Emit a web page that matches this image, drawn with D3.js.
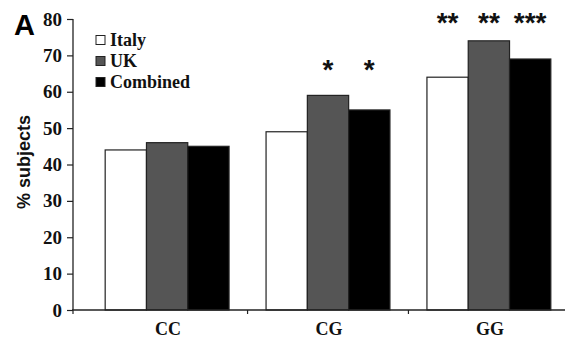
<!DOCTYPE html>
<html><head><meta charset="utf-8">
<script src="https://cdn.jsdelivr.net/npm/d3@7"></script>
<style>body{margin:0;background:#fff}svg{display:block}</style>
</head><body>
<svg id="c" width="565" height="340"></svg>
<script>
const categories = ["CC", "CG", "GG"];
const series = ["Italy", "UK", "Combined"];
const italy = [44, 49, 64];
const uk = [46, 59, 74];
const combined = [45, 55, 69];
const stars = [["", "", ""], ["", "*", "*"], ["**", "**", "***"]];
const yTicks = [0, 10, 20, 30, 40, 50, 60, 70, 80];
const colors = ["#ffffff", "#555555", "#000000"];

const vals = [italy, uk, combined];
const svg = d3.select("#c");
const serif = "'Liberation Serif','Times New Roman',serif";
const sans = "'Liberation Sans',Arial,sans-serif";

const y = d3.scaleLinear().domain([0, 80]).range([310, 19]);
const x0 = d3.scaleBand().domain(categories).range([73, 583]).paddingInner(0.23).paddingOuter(0.2);
const x1 = d3.scaleBand().domain(series).range([0, x0.bandwidth()]);

// y axis
const yAxis = svg.append("g").attr("transform", "translate(73,0)")
  .call(d3.axisLeft(y).tickValues(yTicks).tickSize(6).tickPadding(5));
yAxis.select(".domain").attr("stroke", "#222").attr("stroke-width", 1.3).attr("d", "M0,19V310");
yAxis.selectAll(".tick line").attr("stroke", "#222").attr("stroke-width", 1.2);
yAxis.selectAll(".tick text").attr("font-family", serif).attr("font-weight", "bold")
  .attr("font-size", 19).attr("fill", "#111");

// bars
categories.forEach((c, ci) => {
  const groupMax = d3.max(vals, v => v[ci]);
  const starLevel = Math.min(groupMax + 8, 80);
  series.forEach((s, si) => {
    svg.append("rect")
      .attr("x", x0(c) + x1(s))
      .attr("y", y(vals[si][ci]))
      .attr("width", x1.bandwidth())
      .attr("height", y(0) - y(vals[si][ci]))
      .attr("fill", colors[si])
      .attr("stroke", "#222").attr("stroke-width", 1.2);
    if (stars[ci][si]) {
      svg.append("text")
        .attr("x", x0(c) + x1(s) + x1.bandwidth() / 2)
        .attr("y", y(starLevel) + 13)
        .attr("text-anchor", "middle")
        .attr("font-family", sans).attr("font-weight", "bold").attr("font-size", 28)
        .attr("fill", "#111")
        .text(stars[ci][si]);
    }
  });
});

// x axis
svg.append("line").attr("x1", 72).attr("x2", 565).attr("y1", 310).attr("y2", 310)
  .attr("stroke", "#222").attr("stroke-width", 1.3);
const step = x0.step();
categories.forEach((c, i) => {
  const bx = i === 0 ? 73 : x0(c) - step * x0.paddingInner() / 2;
  svg.append("line").attr("x1", bx).attr("x2", bx).attr("y1", 310).attr("y2", 314)
    .attr("stroke", "#222").attr("stroke-width", 1.2);
  svg.append("text").attr("x", x0(c) + x0.bandwidth() / 2 + 1).attr("y", 335)
    .attr("text-anchor", "middle").attr("font-family", serif).attr("font-weight", "bold")
    .attr("font-size", 18).attr("fill", "#111").text(c);
});

// y label
svg.append("text").attr("transform", "translate(30,162) rotate(-90)")
  .attr("text-anchor", "middle").attr("font-family", sans).attr("font-weight", "bold")
  .attr("font-size", 18).attr("fill", "#111").text("% subjects");

// panel letter
svg.append("text").attr("x", 14).attr("y", 35).attr("font-family", sans)
  .attr("font-weight", "bold").attr("font-size", 29).attr("fill", "#000").text("A");

// legend
series.forEach((s, i) => {
  const ly = 40 + i * 21;
  svg.append("rect").attr("x", 96).attr("y", ly - 4.5).attr("width", 9).attr("height", 9)
    .attr("fill", colors[i]).attr("stroke", "#222").attr("stroke-width", 1);
  svg.append("text").attr("x", 110).attr("y", ly + 6).attr("font-family", serif)
    .attr("font-weight", "bold").attr("font-size", 18).attr("fill", "#111").text(s);
});
</script>
</body></html>
